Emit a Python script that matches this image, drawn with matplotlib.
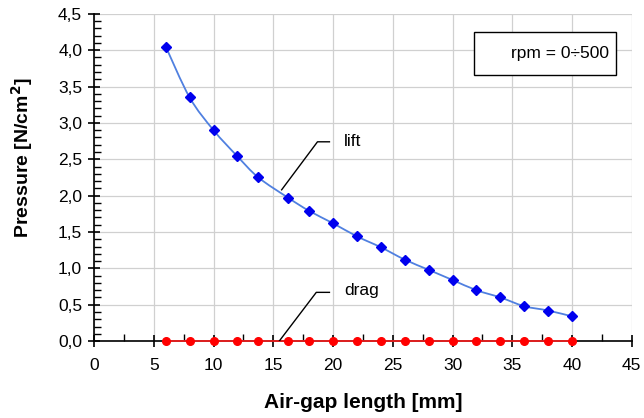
import matplotlib
matplotlib.use("Agg")
import matplotlib.pyplot as plt
from matplotlib.path import Path
from matplotlib.patches import PathPatch, Rectangle
from matplotlib.ticker import MultipleLocator, FuncFormatter

plt.rcParams['font.family'] = ['Liberation Sans', 'DejaVu Sans']

# air-gap length [mm]
gap = [6, 8, 10, 12, 13.75, 16.25, 18, 20, 22, 24, 26, 28, 30, 32, 34, 36, 38, 40]
# pressure [N/cm2]
lift = [4.05, 3.35, 2.90, 2.54, 2.25, 1.97, 1.79, 1.62, 1.44, 1.29, 1.12, 0.98,
        0.84, 0.70, 0.60, 0.48, 0.42, 0.34]
drag = [0.0] * len(gap)


def smooth_path(xs, ys):
    # Catmull-Rom through the points, drawn as cubic bezier (like Excel's smoothed line)
    pts = list(zip(xs, ys))
    verts = [pts[0]]
    codes = [Path.MOVETO]
    for i in range(len(pts) - 1):
        p0 = pts[i - 1] if i > 0 else pts[i]
        p1, p2 = pts[i], pts[i + 1]
        p3 = pts[i + 2] if i + 2 < len(pts) else pts[i + 1]
        c1 = (p1[0] + (p2[0] - p0[0]) / 6, p1[1] + (p2[1] - p0[1]) / 6)
        c2 = (p2[0] - (p3[0] - p1[0]) / 6, p2[1] - (p3[1] - p1[1]) / 6)
        verts += [c1, c2, p2]
        codes += [Path.CURVE4] * 3
    return Path(verts, codes)


fig = plt.figure(figsize=(6.44, 4.18), dpi=100)
ax = fig.add_axes([0.146, 0.184, 0.835, 0.783])

ax.add_patch(PathPatch(smooth_path(gap, lift), fill=False, ec='#5080e0', lw=1.3, zorder=3))
ax.plot(gap, lift, 'D', color='#0000ee', ms=5, lw=0, zorder=4)
ax.plot(gap, drag, color='#ff2020', lw=1.2, marker='o', ms=5.5,
        mfc='#ff0000', mec='#ff0000', zorder=4, clip_on=False)

ax.set_xlim(0, 45)
ax.set_ylim(0, 4.5)
ax.xaxis.set_major_locator(MultipleLocator(5))
ax.xaxis.set_minor_locator(MultipleLocator(2.5))
ax.yaxis.set_major_locator(MultipleLocator(0.5))
ax.yaxis.set_minor_locator(MultipleLocator(0.1))
ax.yaxis.set_major_formatter(FuncFormatter(lambda v, p: f"{v:.1f}".replace('.', ',')))

ax.grid(True, which='major', color='#d0d0d0', lw=0.9)
ax.set_axisbelow(True)
for s in ['top', 'right']:
    ax.spines[s].set_visible(False)
ax.spines['left'].set_linewidth(1.2)
ax.spines['bottom'].set_linewidth(1.2)
ax.tick_params(which='major', direction='inout', length=9, width=1.2, labelsize=12.5, pad=4)
ax.tick_params(axis='x', which='major', pad=8)
ax.tick_params(which='minor', direction='in', length=5, width=1.0)

ax.set_xlabel('Air-gap length [mm]', fontsize=15, fontweight='bold', labelpad=14)
ax.set_ylabel('Pressure [N/cm$^\\mathbf{2}$]', fontsize=14, fontweight='bold')
ax.yaxis.set_label_coords(-0.11, 0.56)

# leader lines and labels
ax.plot([15.7, 18.7, 19.7], [2.08, 2.74, 2.74], color='black', lw=1.0, zorder=5)
ax.text(20.9, 2.74, 'lift', fontsize=12.5, va='center', ha='left')
ax.plot([15.5, 18.6, 19.7], [0.0, 0.67, 0.67], color='black', lw=1.0, zorder=5)
ax.text(20.9, 0.69, 'drag', fontsize=12.5, va='center', ha='left')

ax.add_patch(Rectangle((0.706, 0.813), 0.264, 0.132, transform=ax.transAxes,
                       fc='white', ec='black', lw=1.0, zorder=6))
ax.text(0.957, 0.879, 'rpm = 0÷500', transform=ax.transAxes, fontsize=12.5,
        ha='right', va='center', zorder=7)

fig.savefig('out.png', dpi=100)
